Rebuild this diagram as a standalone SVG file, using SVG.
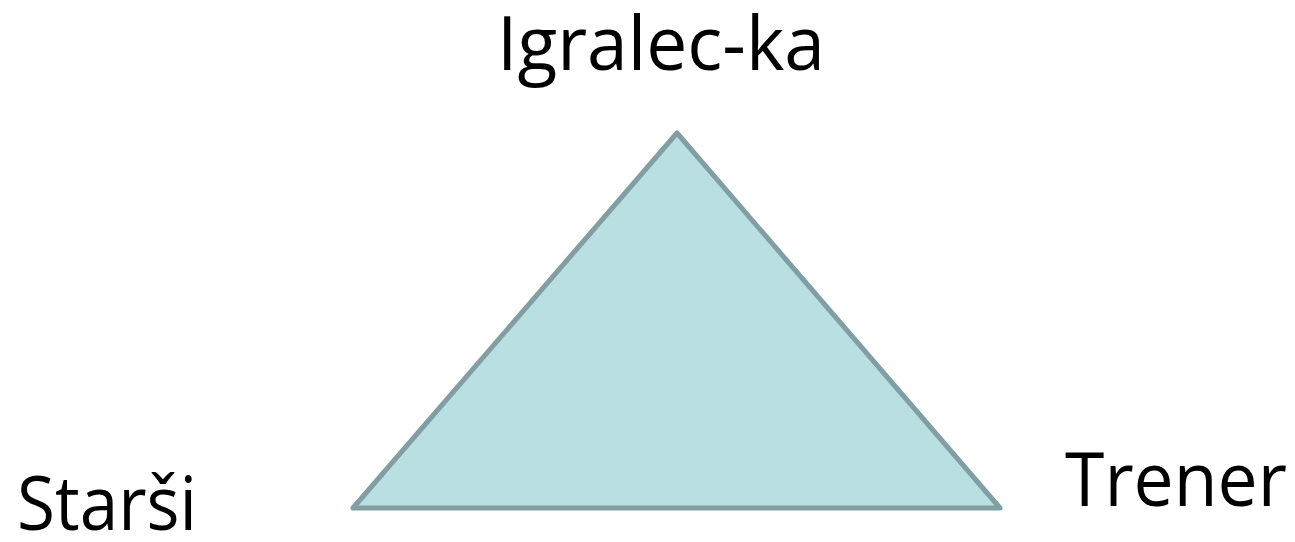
<svg xmlns="http://www.w3.org/2000/svg" width="1295" height="542" viewBox="0 0 1295 542">
<style>
.lbl{font-family:"Open Sans","Liberation Sans",sans-serif;font-size:75px;fill:#000}
.tri{fill:#BADFE2;stroke:#819FA2;stroke-width:5;stroke-linejoin:round}
</style>
<rect width="1295" height="542" fill="#fff"/>
<g id="triangle"><polygon class="tri" points="677,133 353,508 1000,508"/></g>
<g id="igralec"><text class="lbl" x="497" y="70" textLength="328" lengthAdjust="spacingAndGlyphs">Igralec-ka</text></g>
<g id="starsi"><text class="lbl" x="17" y="530" textLength="180" lengthAdjust="spacingAndGlyphs">Starši</text></g>
<g id="trener"><text class="lbl" x="1065" y="506" textLength="222" lengthAdjust="spacingAndGlyphs">Trener</text></g>
<g id="connectors"></g>
</svg>
